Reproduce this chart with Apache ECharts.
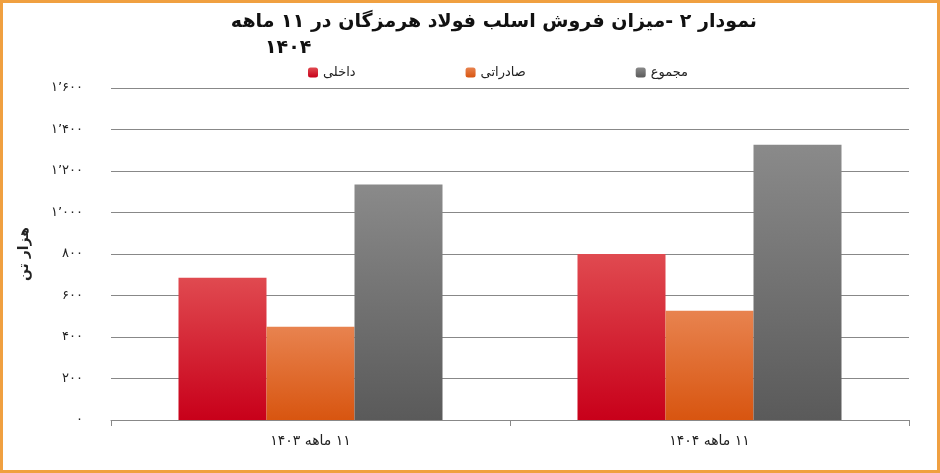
<!DOCTYPE html>
<html><head><meta charset="utf-8">
<script src="https://cdn.jsdelivr.net/npm/echarts@6/dist/echarts.min.js"></script>
<style>html,body{margin:0;padding:0;background:#fff}#c{width:934px;height:467px;border:3px solid #f0a040}</style>
</head><body><div id="c"></div>
<script>
const categories = ['۱۱ ماهه ۱۴۰۳', '۱۱ ماهه ۱۴۰۴'];
const domestic = [686, 800];
const exportv = [449, 527];
const total = [1135, 1327];
const seriesNames = ['داخلی', 'صادراتی', 'مجموع'];
const rtl = s => '\u202B' + s + '\u202C';
const fa = n => String(n).replace(/\B(?=(\d{3})+(?!\d))/g, '٬').replace(/\d/g, d => '۰۱۲۳۴۵۶۷۸۹'[d]);
const grad = (a, b) => new echarts.graphic.LinearGradient(0, 0, 0, 1, [{offset:0,color:a},{offset:1,color:b}]);
const chart = echarts.init(document.getElementById('c'));
chart.setOption({
  textStyle:{fontFamily:'DejaVu Sans'},
  graphic:[
    {type:'text',right:180,top:10,style:{text:rtl('نمودار ۲ -میزان فروش اسلب فولاد هرمزگان در ۱۱ ماهه'),font:'bold 19px DejaVu Sans',fill:'#111'}},
    {type:'text',left:262,top:36,style:{text:rtl('۱۴۰۴'),font:'bold 19px DejaVu Sans',fill:'#111'}}
  ],
  legend:{top:58,left:300,itemWidth:10,itemHeight:10,itemGap:110,textStyle:{fontSize:13,color:'#222'},
    data:seriesNames},
  grid:{left:108,right:28,top:85,bottom:50},
  xAxis:{type:'category',data:categories,axisTick:{show:true,length:6,lineStyle:{color:'#888'}},
    axisLine:{lineStyle:{color:'#888'}},axisLabel:{formatter:v=>rtl(v),fontSize:14,color:'#222',margin:14}},
  yAxis:{type:'value',min:0,max:1600,interval:200,name:rtl('هزار تن'),nameLocation:'middle',nameGap:80,nameRotate:90,
    nameTextStyle:{fontSize:14,fontWeight:'bold',color:'#222'},
    axisLabel:{formatter:v=>fa(v),fontSize:13,color:'#222',margin:28},
    splitLine:{lineStyle:{color:'#888'}}},
  series:[
    {name:seriesNames[0],type:'bar',data:domestic,barWidth:88,barGap:'0%',itemStyle:{color:grad('#e04a50','#c8001a')}},
    {name:seriesNames[1],type:'bar',data:exportv,barWidth:88,itemStyle:{color:grad('#e8834f','#d85510')}},
    {name:seriesNames[2],type:'bar',data:total,barWidth:88,itemStyle:{color:grad('#8a8a8a','#5a5a5a')}}
  ]
});
</script></body></html>
